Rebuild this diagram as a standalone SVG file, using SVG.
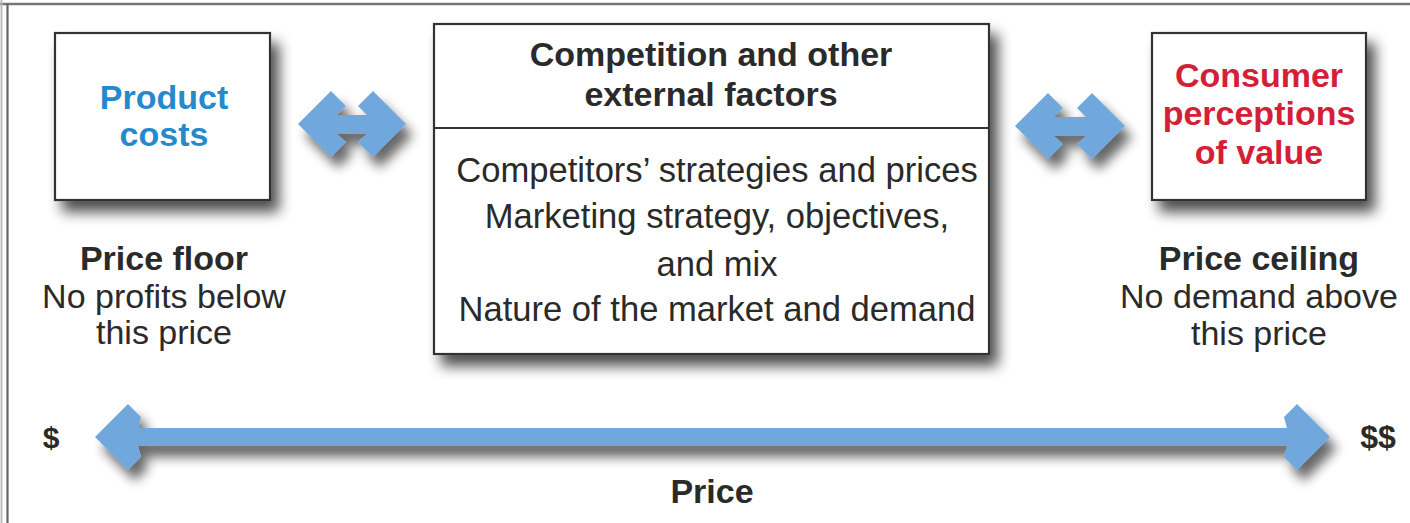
<svg xmlns="http://www.w3.org/2000/svg" width="1410" height="523" viewBox="0 0 1410 523">
<defs>
<filter id="shadow" x="-20%" y="-20%" width="150%" height="160%">
<feGaussianBlur in="SourceAlpha" stdDeviation="7"/>
<feOffset dx="8" dy="11" result="b"/>
<feComponentTransfer><feFuncA type="linear" slope="0.7"/></feComponentTransfer>
<feMerge><feMergeNode/><feMergeNode in="SourceGraphic"/></feMerge>
</filter>
<filter id="ashadow" x="-20%" y="-30%" width="150%" height="190%">
<feGaussianBlur in="SourceAlpha" stdDeviation="6"/>
<feOffset dx="7" dy="11"/>
<feComponentTransfer><feFuncA type="linear" slope="0.6"/></feComponentTransfer>
<feMerge><feMergeNode/><feMergeNode in="SourceGraphic"/></feMerge>
</filter>
</defs>
<style>
.box{fill:#fff;stroke:#333;stroke-width:2.2}
.t{font-family:"Liberation Sans",Arial,sans-serif;font-size:34px;text-anchor:middle;fill:#2a2a2a}
.body{font-size:34.6px}
.b{font-weight:bold}
.blue{fill:#2589cc}
.red{fill:#d42036}
.arrow{fill:#6fa8de}
</style>
<rect x="0" y="0" width="1410" height="523" fill="#fff"/>
<g id="frame">
<line x1="0" y1="4" x2="1410" y2="4" stroke="#777" stroke-width="2.5"/>
<line x1="1.5" y1="0" x2="1.5" y2="523" stroke="#bbb" stroke-width="2"/>
<line x1="7.5" y1="4" x2="7.5" y2="523" stroke="#666" stroke-width="2.2"/>
</g>
<g id="product-costs">
<rect class="box" x="55" y="33" width="215" height="167" filter="url(#shadow)"/>
<text class="t b blue" x="164" y="109">Product</text>
<text class="t b blue" x="164" y="146">costs</text>
</g>
<g id="competition">
<rect class="box" x="434" y="24" width="555" height="330" filter="url(#shadow)"/>
<line x1="434" y1="128" x2="989" y2="128" stroke="#333" stroke-width="2.2"/>
<text class="t b" x="711" y="66">Competition and other</text>
<text class="t b" x="711" y="106">external factors</text>
<text class="t body" x="717" y="182">Competitors’ strategies and prices</text>
<text class="t body" x="717" y="228">Marketing strategy, objectives,</text>
<text class="t body" x="717" y="276">and mix</text>
<text class="t body" x="717" y="321">Nature of the market and demand</text>
</g>
<g id="consumer-value">
<rect class="box" x="1152" y="33" width="214" height="167" filter="url(#shadow)"/>
<text class="t b red" x="1259" y="87">Consumer</text>
<text class="t b red" x="1259" y="125">perceptions</text>
<text class="t b red" x="1259" y="164">of value</text>
</g>
<g id="price-floor">
<text class="t b" x="164" y="270">Price floor</text>
<text class="t" x="164" y="308">No profits below</text>
<text class="t" x="164" y="344">this price</text>
</g>
<g id="price-ceiling">
<text class="t b" x="1259" y="270">Price ceiling</text>
<text class="t" x="1259" y="308">No demand above</text>
<text class="t" x="1259" y="345">this price</text>
</g>
<g id="price-scale">
<text class="t b" x="51" y="448" style="font-size:30px">$</text>
<text class="t b" x="1378" y="448" style="font-size:32px">$$</text>
<text class="t b" x="712" y="503">Price</text>
</g>
<g id="connectors">
<polygon class="arrow" filter="url(#ashadow)" points="298,124 331,91 346,106 337,115 367,115 358,106 373,91 406,124 373,157 358,142 367,134 337,134 346,142 331,157"/>
<polygon class="arrow" filter="url(#ashadow)" points="1015,126 1048,93 1063,108 1054,117 1086,117 1077,108 1092,93 1125,126 1092,159 1077,144 1086,136 1054,136 1063,144 1048,159"/>
<polygon class="arrow" filter="url(#ashadow)" points="95,437 128,404 141,417 138,428 1287,428 1284,417 1297,404 1330,437 1297,470 1284,457 1287,446 138,446 141,457 128,470"/>
</g>
</svg>
